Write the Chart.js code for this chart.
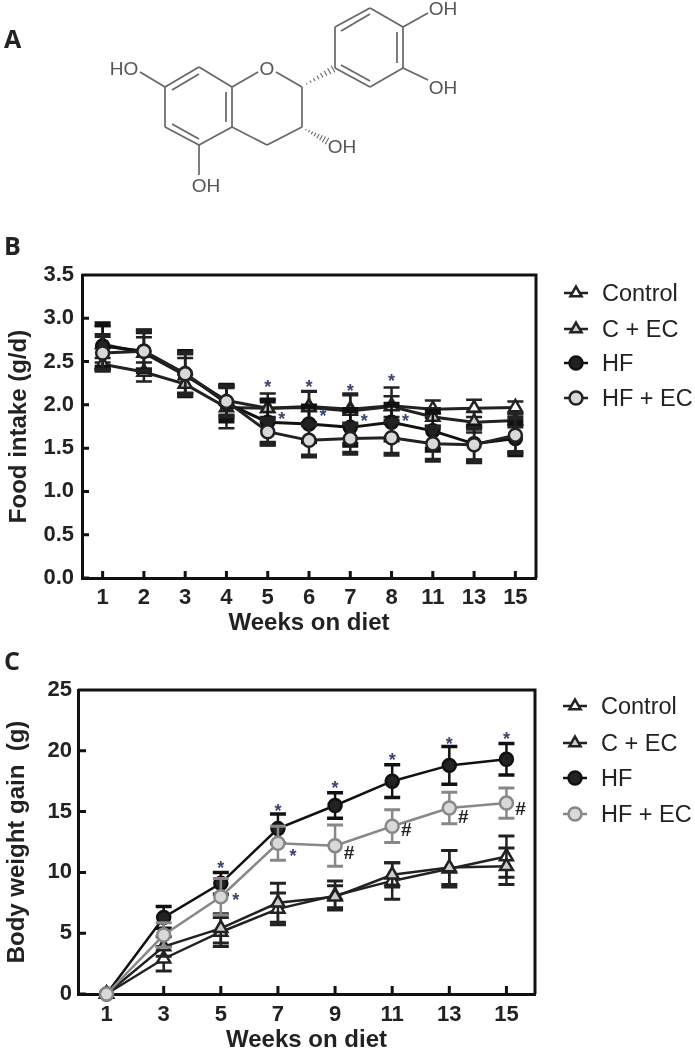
<!DOCTYPE html>
<html>
<head>
<meta charset="utf-8">
<script src="https://cdn.jsdelivr.net/npm/chart.js@4"></script>
<style>
  body { margin: 0; background: #fff; }
  #page { position: relative; width: 695px; height: 1050px; overflow: hidden; font-family: "Liberation Sans", sans-serif; filter: blur(0.45px); }
  canvas, svg { position: absolute; left: 0; }
  .panel { position: absolute; left: 4px; font: bold 25px "Open Sans", sans-serif; color: #222; }
</style>
</head>
<body>
<div id="page">
  <svg id="mol" width="695" height="215" style="top:0"></svg>
  <div class="panel" style="top:21px">A</div>
  <div class="panel" style="top:228px">B</div>
  <div class="panel" style="top:643px">C</div>
  <canvas id="intake" width="695" height="403" style="top:235px"></canvas>
  <canvas id="gain" width="695" height="405" style="top:650px"></canvas>
</div>

<script>
const seriesNames = ['Control', 'C + EC', 'HF', 'HF + EC']

// panel B
const weeksB = ['1', '2', '3', '4', '5', '6', '7', '8', '11', '13', '15']
const controlB = [2.70, 2.60, 2.34, 2.05, 1.96, 1.98, 1.95, 1.99, 1.95, 1.96, 1.97]
const cecB = [2.47, 2.38, 2.24, 1.97, 1.96, 1.97, 1.93, 1.98, 1.86, 1.80, 1.82]
const hfB = [2.68, 2.62, 2.36, 2.02, 1.80, 1.78, 1.74, 1.80, 1.70, 1.55, 1.61]
const hfecB = [2.60, 2.62, 2.36, 2.04, 1.69, 1.59, 1.61, 1.62, 1.55, 1.54, 1.65]
const controlErrB = [.21, .18, .20, .18, .17, .18, .18, .21, .10, .10, .07]
const cecErrB = [.07, .11, .11, .24, .10, .18, .18, .12, .10, .12, .08]
const hfErrB = [.25, .23, .25, .20, .25, .20, .20, .20, .22, .20, .18]
const hfecErrB = [.20, .23, .24, .17, .14, .18, .17, .19, .19, .19, .20]
const starWeeksB = ['5', '6', '7', '8']
const starTopB = [2.24, 2.24, 2.19, 2.31]
const starSideB = [1.87, 1.90, 1.85, 1.85]

// panel C
const weeksC = ['1', '3', '5', '7', '9', '11', '13', '15']
const controlC = [0, 2.9, 5.1, 7.0, 8.1, 9.3, 10.3, 11.3]
const cecC = [0, 3.9, 5.4, 7.5, 8.0, 9.8, 10.4, 10.5]
const hfC = [0, 6.3, 9.1, 13.6, 15.5, 17.5, 18.8, 19.3]
const hfecC = [0, 4.85, 8.0, 12.4, 12.2, 13.8, 15.3, 15.7]
const controlErrC = [0, 1.0, 1.2, 1.3, 1.2, 1.5, 1.5, 1.7]
const cecErrC = [0, 0.8, 1.2, 1.6, 0.9, 1.0, 1.4, 1.5]
const hfErrC = [0, 0.9, 0.9, 1.2, 1.05, 1.35, 1.55, 1.3]
const hfecErrC = [0, 1.0, 1.5, 1.4, 1.7, 1.35, 1.3, 1.25]
const starWeeksC = ['5', '7', '9', '11', '13', '15']
const starTopC = [10.6, 15.3, 17.2, 19.5, 20.8, 21.2]
const starSideWeeksC = ['5', '7']
const starSideC = [8.0, 11.6]
const hashWeeksC = ['9', '11', '13', '15']
const hashC = [11.6, 13.5, 14.6, 15.2]

// molecule, panel A
const bonds = [[199,67,232,87],[232,87,232,127],[232,127,199,145],[199,145,165,127],[165,127,165,87],[165,87,199,67],
  [172,90,199,74],[226,92,226,122],[172,124,199,139],
  [232,87,258,72],[276,72,302,87],[302,87,302,127],[302,127,267,145],[267,145,232,127],
  [335,68,335,27],[335,27,370,8],[370,8,403,27],[403,27,403,68],[403,68,370,87],[370,87,335,68],
  [341,31,370,14],[397,32,397,63],[341,65,370,81],
  [403,27,428,13],[403,68,428,80],[199,145,199,175],[165,87,140,72]]
let svg = ''
bonds.forEach(b => {
  svg += `<line x1="${b[0]}" y1="${b[1]}" x2="${b[2]}" y2="${b[3]}" stroke="#666" stroke-width="1.7"/>`
})
// hashed bonds
function hash(x1, y1, x2, y2) {
  const dx = x2 - x1, dy = y2 - y1, len = Math.hypot(dx, dy)
  for (let i = 1; i <= 8; i++) {
    const t = i / 8, w = 0.4 + t * 3.4
    const mx = x1 + dx * t, my = y1 + dy * t
    const nx = -dy / len * w, ny = dx / len * w
    svg += `<line x1="${mx + nx}" y1="${my + ny}" x2="${mx - nx}" y2="${my - ny}" stroke="#666" stroke-width="1.1"/>`
  }
}
hash(303, 86, 333, 69)
hash(303, 128, 327, 141)
const molText = [['O', 267, 68], ['HO', 124, 68], ['OH', 206, 185], ['OH', 342, 146], ['OH', 443, 8], ['OH', 443, 87]]
molText.forEach(t => {
  svg += `<text x="${t[1]}" y="${t[2]}" dy="7" text-anchor="middle" font-size="19" fill="#555">${t[0]}</text>`
})
document.getElementById('mol').innerHTML = svg

function makeDatasets(values, errs, lastColor, lineW, capW) {
  const fills = ['#fff', '#ccc', '#222', '#d9d9d9']
  const lines = ['#222', '#222', '#111', lastColor]
  const shapes = ['triangle', 'triangle', 'circle', 'circle']
  return values.map((v, i) => ({
    label: seriesNames[i],
    data: v,
    errs: errs[i],
    capW: capW[i],
    order: 4 - i,
    clip: false,
    borderColor: lines[i],
    borderWidth: lineW,
    tension: 0,
    pointStyle: shapes[i],
    pointRadius: i < 2 ? 7.5 : 6.5,
    pointBorderWidth: 2.5,
    pointBorderColor: lines[i],
    pointBackgroundColor: fills[i]
  }))
}

// error bars, drawn just under each dataset's own line
const errorBars = {
  id: 'errorBars',
  beforeDatasetDraw(chart, args) {
    const ds = chart.data.datasets[args.index]
    const y = chart.scales.y, ctx = chart.ctx
    ctx.save()
    ctx.strokeStyle = ds.borderColor
    args.meta.data.forEach((pt, i) => {
      const e = ds.errs[i]
      if (!e) return
      const top = y.getPixelForValue(ds.data[i] + e), bot = y.getPixelForValue(ds.data[i] - e)
      ctx.lineWidth = 2.5
      ctx.beginPath()
      ctx.moveTo(pt.x, top); ctx.lineTo(pt.x, bot)
      ctx.stroke()
      ctx.lineWidth = ds.capW
      ctx.beginPath()
      ctx.moveTo(pt.x - 8, top); ctx.lineTo(pt.x + 8, top)
      ctx.moveTo(pt.x - 8, bot); ctx.lineTo(pt.x + 8, bot)
      ctx.stroke()
    })
    ctx.restore()
  }
}

// top and right lines of the box, and the ticks that point inwards
const frame = {
  id: 'frame',
  beforeDatasetsDraw(chart, args, opts) {
    const a = chart.chartArea, ctx = chart.ctx
    ctx.save()
    ctx.strokeStyle = '#111'
    ctx.lineWidth = 3
    ctx.beginPath()
    ctx.moveTo(a.left, a.top); ctx.lineTo(a.right, a.top); ctx.lineTo(a.right, a.bottom)
    chart.scales.x.ticks.forEach((t, i) => {
      const px = chart.scales.x.getPixelForTick(i)
      ctx.moveTo(px, a.bottom); ctx.lineTo(px, a.bottom - opts.tick)
    })
    chart.scales.y.ticks.forEach((t, i) => {
      const py = chart.scales.y.getPixelForTick(i)
      ctx.moveTo(a.left, py); ctx.lineTo(a.left + opts.tick, py)
    })
    ctx.stroke()
    ctx.restore()
  }
}

// legend and the star / hash marks
const extras = {
  id: 'extras',
  afterDatasetsDraw(chart, args, opts) {
    const ctx = chart.ctx, x = chart.scales.x, y = chart.scales.y
    ctx.save()
    chart.data.datasets.forEach((ds, i) => {
      const ly = opts.legendY[i]
      ctx.strokeStyle = ds.borderColor
      ctx.lineWidth = 2.5
      ctx.beginPath()
      ctx.moveTo(opts.legendX - 12, ly); ctx.lineTo(opts.legendX + 12, ly)
      ctx.stroke()
      ctx.fillStyle = ds.pointBackgroundColor
      Chart.helpers.drawPoint(ctx, { pointStyle: ds.pointStyle, radius: 6.5, rotation: 0, borderWidth: 2.5 }, opts.legendX, ly)
      ctx.fillStyle = '#222'
      ctx.font = '23.5px "Liberation Sans"'
      ctx.textAlign = 'left'
      ctx.textBaseline = 'middle'
      ctx.fillText(ds.label, opts.legendX + 26, ly + 2)
    })
    ctx.textAlign = 'center'
    opts.marks.forEach(m => {
      ctx.font = m.font
      ctx.fillStyle = m.color
      m.weeks.forEach((w, i) => {
        ctx.fillText(m.text, x.getPixelForValue(x.getLabels().indexOf(w)) + m.dx, y.getPixelForValue(m.values[i]) + m.dy)
      })
    })
    ctx.restore()
  }
}

function axisOptions(o) {
  const tickFont = { family: 'Liberation Sans', weight: 'bold', size: 22 }
  const titleFont = { family: 'Liberation Sans', weight: 'bold', size: 24 }
  return {
    x: {
      offset: true,
      afterFit: s => { s.height = o.xHeight },
      border: { color: '#111', width: 3 },
      grid: { display: false, drawTicks: false },
      ticks: { color: '#222', font: tickFont, autoSkip: false, maxRotation: 0, padding: o.xPad },
      title: { display: true, text: 'Weeks on diet', color: '#222', font: titleFont, padding: 0 }
    },
    y: {
      min: 0,
      max: o.yMax,
      afterFit: s => { s.width = o.left },
      border: { color: '#111', width: 3 },
      grid: { display: false, drawTicks: false },
      ticks: { color: '#222', font: tickFont, stepSize: o.yStep, padding: o.yPad, callback: o.yFormat },
      title: { display: true, text: o.yTitle, color: '#222', font: titleFont, padding: { top: o.titleLeft, bottom: 0 } }
    }
  }
}

new Chart(document.getElementById('intake'), {
  type: 'line',
  data: {
    labels: weeksB,
    datasets: makeDatasets([controlB, cecB, hfB, hfecB], [controlErrB, cecErrB, hfErrB, hfecErrB], '#222', 3, [2.5, 2.5, 6, 5])
  },
  plugins: [errorBars, frame, extras],
  options: {
    responsive: false,
    animation: false,
    layout: { padding: { left: 0, right: 159, top: 40, bottom: 0 } },
    scales: axisOptions({ yMax: 3.5, yStep: 0.5, yTitle: 'Food intake (g/d)', yFormat: v => v.toFixed(1), left: 82, xHeight: 60, xPad: 7, yPad: 8, titleLeft: 5 }),
    plugins: {
      legend: { display: false },
      tooltip: { enabled: false },
      frame: { tick: 7 },
      extras: {
        legendX: 576,
        legendY: [58, 94, 128, 163],
        marks: [
          { text: '*', font: 'bold 18px "Liberation Sans"', color: '#3a4470', weeks: starWeeksB, values: starTopB, dx: 0, dy: 4 },
          { text: '*', font: 'bold 18px "Liberation Sans"', color: '#3a4470', weeks: starWeeksB, values: starSideB, dx: 14, dy: 4 }
        ]
      }
    }
  }
})

new Chart(document.getElementById('gain'), {
  type: 'line',
  data: {
    labels: weeksC,
    datasets: makeDatasets([controlC, cecC, hfC, hfecC], [controlErrC, cecErrC, hfErrC, hfecErrC], '#888', 2.5, [3, 3, 3.5, 3])
  },
  plugins: [errorBars, frame, extras],
  options: {
    responsive: false,
    animation: false,
    layout: { padding: { left: 0, right: 160, top: 40, bottom: 0 } },
    scales: axisOptions({ yMax: 25, yStep: 5, yTitle: 'Body weight gain  (g)', yFormat: v => v, left: 78, xHeight: 61, xPad: 8, yPad: 6, titleLeft: 3 }),
    plugins: {
      legend: { display: false },
      tooltip: { enabled: false },
      frame: { tick: 8 },
      extras: {
        legendX: 575,
        legendY: [56, 93, 128, 164],
        marks: [
          { text: '*', font: 'bold 18px "Liberation Sans"', color: '#3a4470', weeks: starWeeksC, values: starTopC, dx: 0, dy: 4 },
          { text: '*', font: 'bold 18px "Liberation Sans"', color: '#3a4470', weeks: starSideWeeksC, values: starSideC, dx: 15, dy: 4 },
          { text: '#', font: 'bold 19px "Liberation Sans"', color: '#222', weeks: hashWeeksC, values: hashC, dx: 14, dy: 1 }
        ]
      }
    }
  }
})
</script>
</body>
</html>
